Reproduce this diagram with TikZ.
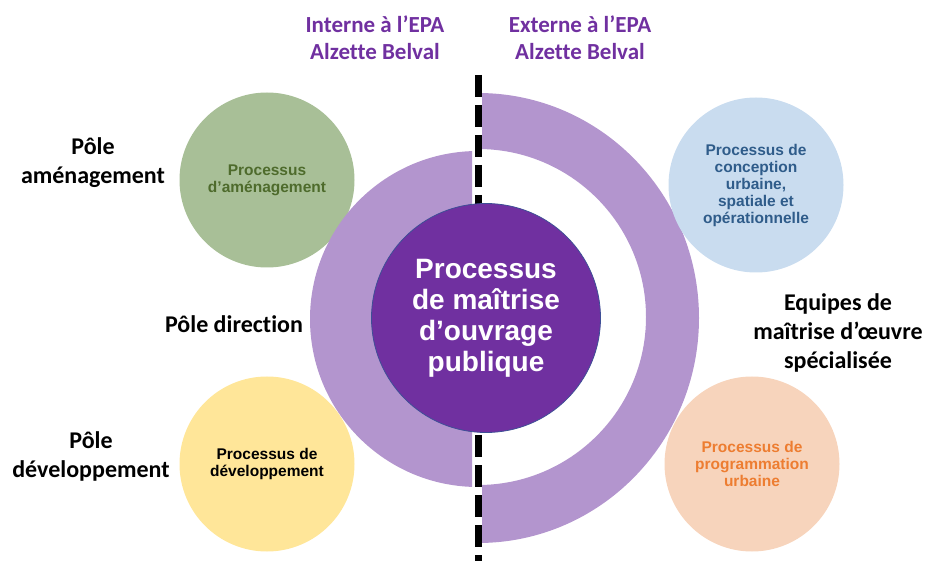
\documentclass[tikz,border=0pt]{standalone}
\usepackage{fontspec}
\setmainfont{Carlito}[Ligatures=NoCommon]
\newfontfamily\arialfont{Liberation Sans}
\usepackage{tikz}

\definecolor{epapurple}{HTML}{7030A0}
\definecolor{ringpurple}{HTML}{B395CE}
\definecolor{centeredge}{HTML}{3E4F96}
\definecolor{greenfill}{HTML}{A8BF97}
\definecolor{greentext}{HTML}{4E6B2C}
\definecolor{yellowfill}{HTML}{FFE699}
\definecolor{bluefill}{HTML}{C9DCEF}
\definecolor{bluetext}{HTML}{2F5C8A}
\definecolor{orangefill}{HTML}{F7D4BC}
\definecolor{orangetext}{HTML}{ED7D31}

\begin{document}
\begin{tikzpicture}[x=1pt,y=-1pt]
        \tikzstyle{every node} = [align=center, inner sep=0pt]
        \tikzstyle{header} = [font=\fontsize{23}{27}\selectfont\bfseries, text=epapurple]
        \tikzstyle{pole} = [font=\fontsize{24}{29}\selectfont\bfseries]
        \tikzstyle{proc} = [circle, minimum size=175pt, font=\arialfont\fontsize{15.5}{17}\selectfont\bfseries]
        \useasboundingbox (0,0) rectangle (927,561);

        % headers
        \node[header] (interne) at (375,38) {Interne à l’EPA\\Alzette Belval};
        \node[header] (externe) at (580,38) {Externe à l’EPA\\Alzette Belval};

        % green circle lies under the rings
        \node[proc, fill=greenfill, text=greentext] (amenagement) at (267,180) {Processus\\d’aménagement};

        % rings
        \begin{scope}
            \clip (0,0) rectangle (472,561);
            \fill[ringpurple] (478,319) circle (168pt);
        \end{scope}
        \begin{scope}
            \clip (482,0) rectangle (927,561);
            \fill[ringpurple, even odd rule] (478,318) ellipse (221pt and 225pt) (478,317) circle (168pt);
        \end{scope}

        % separation line
        \coordinate (sepTop) at (478.5,75);
        \coordinate (sepBottom) at (478.5,561);
        \draw[line width=7pt, dash pattern=on 22pt off 8pt] (sepTop) -- (sepBottom);

        \node[circle, fill=epapurple, draw=centeredge, line width=0.8pt, minimum size=229pt, text=white,
              font=\arialfont\fontsize{28}{31}\selectfont\bfseries] (moa) at (486,318) {Processus\\de maîtrise\\d’ouvrage\\publique};

        \node[proc, fill=yellowfill, text=black] (developpement) at (267,464) {Processus de\\développement};
        \node[proc, fill=bluefill, text=bluetext] (conception) at (756,185) {Processus de\\conception\\urbaine,\\spatiale et\\opérationnelle};
        \node[proc, fill=orangefill, text=orangetext] (programmation) at (752,464) {Processus de\\programmation\\urbaine};

        % labels
        \node[pole] (poleAm) at (93,163) {Pôle\\aménagement};
        \node[pole] (poleDir) at (234,324) {Pôle direction};
        \node[pole] (poleDev) at (91,456) {Pôle\\développement};
        \node[pole] (equipes) at (838,333) {Equipes de\\maîtrise d’œuvre\\spécialisée};
    \end{tikzpicture}
\end{document}
